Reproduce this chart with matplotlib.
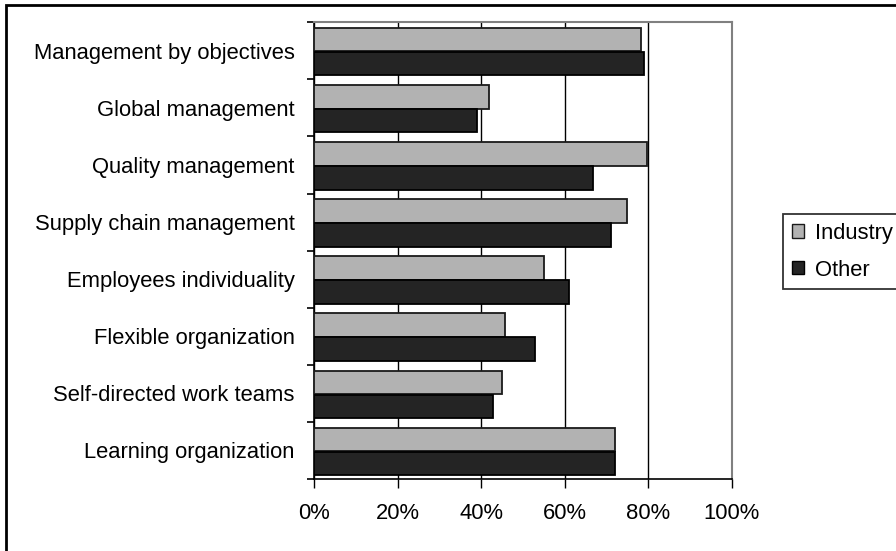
import matplotlib
matplotlib.use("Agg")
import matplotlib.pyplot as plt
from matplotlib.patches import Rectangle
from matplotlib.ticker import FixedLocator, PercentFormatter
import numpy as np

plt.rcParams['font.family'] = ['Liberation Sans', 'DejaVu Sans']

categories = [
    "Management by objectives",
    "Global management",
    "Quality management",
    "Supply chain management",
    "Employees individuality",
    "Flexible organization",
    "Self-directed work teams",
    "Learning organization",
]
industry = [78.2, 41.9, 79.8, 75.0, 55.0, 45.8, 45.0, 72.0]
other = [79.0, 38.9, 66.8, 71.2, 61.1, 52.9, 42.9, 72.0]
x_ticks = [0, 20, 40, 60, 80, 100]

FS = 15.8

W, H = 896, 551
fig = plt.figure(figsize=(W / 100, H / 100), dpi=100)
ax = fig.add_axes([314.3 / W, 1 - 479 / H, (731.7 - 314.3) / W, (479 - 22.3) / H])

pos = np.arange(len(categories))
ax.barh(pos - 0.195, industry, height=0.41, color="#b2b2b2",
        edgecolor="#1a1a1a", linewidth=1.3, label="Industry", zorder=3)
ax.barh(pos + 0.225, other, height=0.41, color="#242424",
        edgecolor="#000000", linewidth=1.3, label="Other", zorder=3)

ax.set_xlim(0, 100)
ax.set_ylim(len(categories) - 0.5, -0.5)

# x axis: percentages with outward ticks, black gridlines
ax.set_xticks(x_ticks)
ax.xaxis.set_major_formatter(PercentFormatter(decimals=0))
ax.tick_params(axis="x", direction="out", length=6.5, width=1.0,
               color="black", labelsize=FS, pad=11)
ax.grid(axis="x", color="black", linewidth=1.0, zorder=1)

# y axis: labels at category centres, tick marks at category boundaries
ax.set_yticks(pos)
ax.set_yticklabels(categories)
ax.tick_params(axis="y", which="major", length=0, labelsize=FS, pad=14)
ax.yaxis.set_minor_locator(FixedLocator(np.arange(-0.5, len(categories) + 0.5, 1.0)))
ax.tick_params(axis="y", which="minor", direction="out", length=5, width=1.2, color="black")

for side in ("top", "right"):
    ax.spines[side].set_color("#808080")
    ax.spines[side].set_linewidth(1.5)
for side in ("left", "bottom"):
    ax.spines[side].set_color("black")
    ax.spines[side].set_linewidth(1.2)

leg = fig.legend(loc="upper left", bbox_to_anchor=(783.3 / W, 1 - 214 / H),
                 frameon=True, fancybox=False, fontsize=FS,
                 handlelength=0.55, handleheight=0.55, handletextpad=0.5,
                 labelspacing=0.72, borderpad=0.4, borderaxespad=0)
leg.get_frame().set_edgecolor("black")
leg.get_frame().set_linewidth(1.3)
for h in leg.legend_handles:
    h.set_linewidth(1.0)

# outer border of the chart area
fig.patches.append(Rectangle((6 / W, -0.1), 1.2, 1 - 4.5 / H + 0.1,
                             transform=fig.transFigure, fill=False,
                             edgecolor="black", linewidth=2.0))

fig.savefig("out.png", dpi=100)
